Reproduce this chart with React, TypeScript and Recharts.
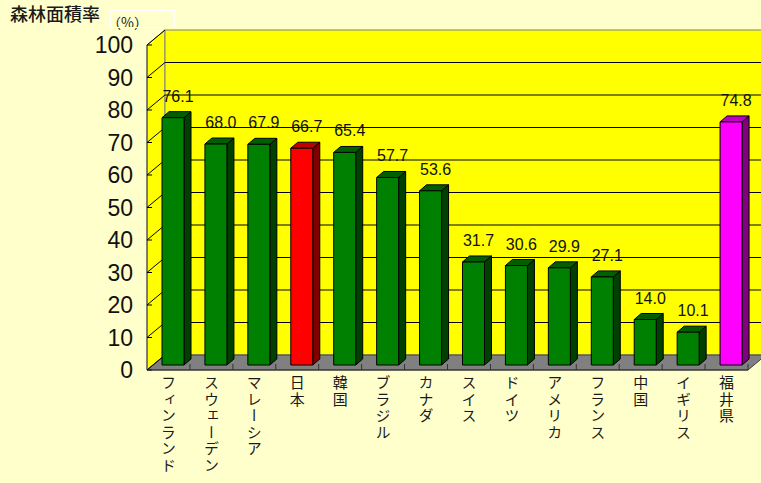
import React from 'react'
import { BarChart, Bar, XAxis, YAxis, CartesianGrid } from 'recharts'

const countries = [
  'フィンランド',
  'スウェーデン',
  'マレーシア',
  '日本',
  '韓国',
  'ブラジル',
  'カナダ',
  'スイス',
  'ドイツ',
  'アメリカ',
  'フランス',
  '中国',
  'イギリス',
  '福井県',
]
const forestRates = [76.1, 68.0, 67.9, 66.7, 65.4, 57.7, 53.6, 31.7, 30.6, 29.9, 27.1, 14.0, 10.1, 74.8]
const regionKinds = [
  'world', 'world', 'world', 'japan', 'world', 'world', 'world',
  'world', 'world', 'world', 'world', 'world', 'world', 'fukui',
]
const yTicks = [0, 10, 20, 30, 40, 50, 60, 70, 80, 90, 100]

const TONES: Record<string, { front: string; side: string; top: string }> = {
  world: { front: '#008000', side: '#004000', top: '#006000' },
  japan: { front: '#ff0000', side: '#800000', top: '#c00000' },
  fukui: { front: '#ff00ff', side: '#800080', top: '#c000c0' },
}

const data = countries.map((name, i) => ({ name, rate: forestRates[i], kind: regionKinds[i] }))

// 3D wall depth and bar placement inside it
const DEPTH_X = 18
const DEPTH_Y = -15
const BAR_SHIFT_X = 5
const BAR_SHIFT_Y = -5
const BAR_DEPTH_X = 7
const BAR_DEPTH_Y = -6

const JP_FONT = '"Noto Sans CJK JP", "Noto Sans", sans-serif'
const NUM_FONT = '"Liberation Sans", Arial, sans-serif'

const pts = (list: number[][]) => list.map((p) => p.join(',')).join(' ')

const GridRow = (props: any) => {
  const { x, y, width, height, x1, y1, index } = props
  const bottom = y + height
  const isEdge = Math.abs(y1 - y) < 0.5 || Math.abs(y1 - bottom) < 0.5
  return (
    <g key={`row-${index}`}>
      {index === 0 && (
        <g>
          <polygon
            points={pts([[x, y], [x + DEPTH_X, y + DEPTH_Y], [x + DEPTH_X, bottom + DEPTH_Y], [x, bottom]])}
            fill="#ffff00"
            stroke="#808080"
          />
          <rect x={x + DEPTH_X} y={y + DEPTH_Y} width={width} height={height} fill="#ffff00" stroke="#808080" />
          <polygon
            points={pts([[x, bottom], [x + DEPTH_X, bottom + DEPTH_Y], [x + width + DEPTH_X, bottom + DEPTH_Y], [x + width, bottom]])}
            fill="#808080"
            stroke="#404040"
          />
          <line x1={x} y1={y} x2={x} y2={bottom} stroke="#404040" />
        </g>
      )}
      {!isEdge && (
        <line x1={x1 + DEPTH_X} y1={y1 + DEPTH_Y} x2={x + width + DEPTH_X} y2={y1 + DEPTH_Y} stroke="#000" />
      )}
      <line x1={x1} y1={y1} x2={x1 + DEPTH_X} y2={y1 + DEPTH_Y} stroke="#000" />
      <line x1={x1} y1={y1} x2={x1 + 5} y2={y1} stroke="#000" />
    </g>
  )
}

const Prism = (props: any) => {
  const { x, y, width, height, payload } = props
  const tone = TONES[payload.kind]
  const fx = x + BAR_SHIFT_X
  const fy = y + BAR_SHIFT_Y
  const bx = fx + width
  return (
    <g stroke="#000" strokeWidth={1} strokeLinejoin="round">
      <polygon
        points={pts([[bx, fy], [bx + BAR_DEPTH_X, fy + BAR_DEPTH_Y], [bx + BAR_DEPTH_X, fy + height + BAR_DEPTH_Y], [bx, fy + height]])}
        fill={tone.side}
      />
      <polygon
        points={pts([[fx, fy], [fx + BAR_DEPTH_X, fy + BAR_DEPTH_Y], [bx + BAR_DEPTH_X, fy + BAR_DEPTH_Y], [bx, fy]])}
        fill={tone.top}
      />
      <rect x={fx} y={fy} width={width} height={height} fill={tone.front} />
    </g>
  )
}

const ValueLabel = (props: any) => {
  const { x, y, width, value } = props
  return (
    <text
      x={x + width / 2 + 10}
      y={y + BAR_SHIFT_Y - 16}
      textAnchor="middle"
      fontSize={16}
      fontFamily={NUM_FONT}
      fill="#111"
    >
      {Number(value).toFixed(1)}
    </text>
  )
}

const CategoryTick = (props: any) => {
  const { x, y, payload } = props
  const half = payload.offset ?? 0
  return (
    <g>
      <line x1={x + half} y1={y - 14} x2={x + half} y2={y - 8} stroke="#333" />
      <text
        x={x}
        y={y - 3}
        fontSize={15}
        fontFamily={JP_FONT}
        fill="#1a1a1a"
        style={{ writingMode: 'vertical-rl', letterSpacing: '1.5px' }}
      >
        {payload.value}
      </text>
    </g>
  )
}

export default function App() {
  return (
    <div style={{ position: 'absolute', left: 0, top: 0, width: 761, height: 483, background: '#ffffcc', overflow: 'hidden' }}>
      <BarChart width={761} height={483} data={data} margin={{ top: 45, right: 13, bottom: 3, left: 0 }}>
        <CartesianGrid vertical={false} horizontal={GridRow} />
        <XAxis
          dataKey="name"
          height={110}
          interval={0}
          tickLine={false}
          axisLine={{ stroke: '#333' }}
          tick={CategoryTick}
        />
        <YAxis
          width={147}
          domain={[0, 100]}
          ticks={yTicks}
          tickLine={false}
          axisLine={false}
          tickSize={6}
          tickMargin={8}
          tick={{ fontSize: 23, fill: '#111', fontFamily: NUM_FONT }}
        />
        <Bar dataKey="rate" barSize={22} shape={Prism} label={ValueLabel} isAnimationActive={false} />
      </BarChart>
      <svg width={761} height={483} style={{ position: 'absolute', left: 0, top: 0, pointerEvents: 'none' }}>
        <text x={10} y={21} fontSize={18} fontFamily={JP_FONT} fill="#1a1a1a" fontWeight={500}>
          森林面積率
        </text>
        <text x={107} y={28} fontSize={14} fontFamily={JP_FONT} fill="#1a1a1a">
          （%）
        </text>
        <rect x={110.5} y={10.5} width={64} height={17} fill="none" stroke="#ffffff" />
      </svg>
    </div>
  )
}
